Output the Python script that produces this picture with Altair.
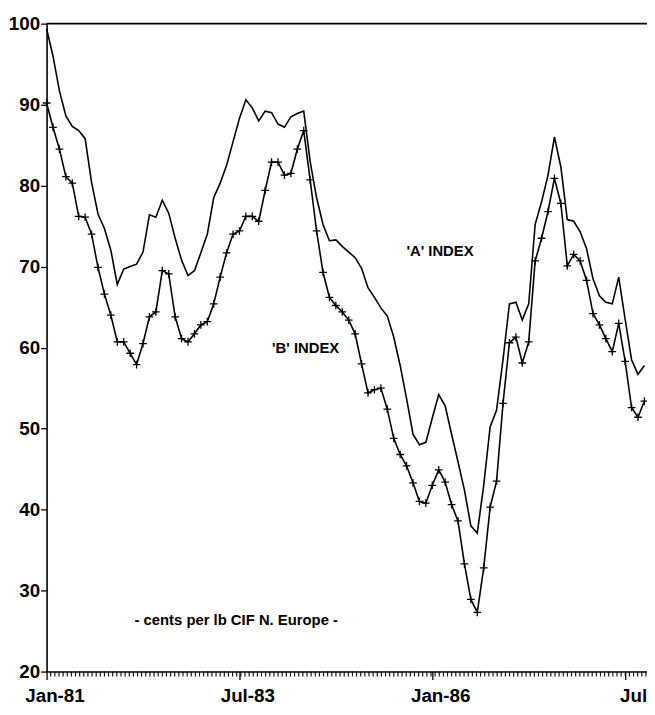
import altair as alt
import pandas as pd
import numpy as np

# Monthly observations, Jan-81 (month 0) .. Oct-88 (month 93)
months = list(range(94))

a_index = [99.4, 96.0, 91.7, 88.6, 87.3, 86.8, 85.8, 80.4, 76.5, 74.7,
           72.0, 67.8, 69.7, 70.0, 70.3, 71.8, 76.4, 76.1, 78.2, 76.6,
           73.5, 70.8, 68.9, 69.5, 71.7, 74.0, 78.5, 80.3, 82.5, 85.4,
           88.3, 90.6, 89.6, 88.0, 89.2, 89.0, 87.6, 87.2, 88.5, 88.9,
           89.2, 83.0, 78.5, 75.2, 73.2, 73.3, 72.5, 71.8, 71.1, 69.8,
           67.4, 66.2, 64.9, 63.9, 61.3, 57.8, 53.7, 49.3, 48.0, 48.3,
           51.3, 54.2, 52.8, 49.3, 45.9, 42.4, 38.0, 37.1, 43.0, 50.2,
           52.3, 58.5, 65.4, 65.6, 63.4, 65.4, 75.2, 78.0, 81.3, 86.0,
           82.3, 75.8, 75.6, 74.3, 72.2, 68.5, 66.4, 65.6, 65.4, 68.7,
           63.5, 58.5, 56.7, 57.8]

b_index = [90.2, 87.2, 84.5, 81.1, 80.3, 76.2, 76.1, 74.0, 69.9, 66.6,
           64.0, 60.7, 60.7, 59.3, 57.9, 60.5, 63.8, 64.4, 69.5, 69.1,
           63.8, 61.1, 60.7, 61.7, 62.8, 63.2, 65.4, 68.7, 71.7, 74.0,
           74.4, 76.2, 76.2, 75.6, 79.4, 82.9, 82.9, 81.3, 81.5, 84.5,
           86.8, 80.7, 74.4, 69.3, 66.2, 65.2, 64.4, 63.4, 61.7, 58.0,
           54.4, 54.8, 55.0, 52.4, 48.8, 46.8, 45.4, 43.3, 41.0, 40.8,
           43.0, 44.9, 43.4, 40.6, 38.6, 33.3, 28.9, 27.3, 32.8, 40.3,
           43.5, 53.1, 60.6, 61.3, 58.1, 60.7, 70.7, 73.5, 76.8, 80.9,
           77.8, 70.1, 71.5, 70.7, 68.3, 64.2, 62.8, 61.1, 59.5, 63.0,
           58.3, 52.6, 51.4, 53.4]

tick_months = [0, 30, 60, 90]
tick_labels = ["Jan-81", "Jul-83", "Jan-86", "Jul"]
y_ticks = [20, 30, 40, 50, 60, 70, 80, 90, 100]

note_texts = ["'A' INDEX", "'B' INDEX", "- cents per lb CIF N. Europe -"]

df_a = pd.DataFrame({"month": months, "value": a_index})
df_b = pd.DataFrame({"month": months, "value": b_index})
# where the three notes sit, in data units (month, index value)
df_notes = pd.DataFrame({"text": note_texts,
                         "month": [61.2, 40.3, 29.5],
                         "value": [71.9, 60.0, 26.4]})
df_top = pd.DataFrame({"value": [max(y_ticks)]})

# comb of small tick marks hanging under the time axis (about 0.64 month apart)
minor_ticks = [round(float(v), 3) for v in np.arange(0.643, 93.4, 0.643)]
df_minor = pd.DataFrame({"month": minor_ticks,
                         "value": min(y_ticks),
                         "value2": min(y_ticks) - 0.6})

FONT = "Liberation Sans"
label_expr = " : ".join(
    f"abs(datum.value - {m}) < 0.01 ? '{t}'" for m, t in zip(tick_months, tick_labels)
) + " : ''"

xscale = alt.Scale(domain=[0, 93.4], nice=False, zero=False)
yscale = alt.Scale(domain=[20, 100], nice=False, zero=False)

yaxis = alt.Axis(values=y_ticks, tickSize=6, labelPadding=1, labelFontSize=19,
                 labelFont=FONT, labelFontWeight="bold", labelColor="black",
                 domainColor="black", domainWidth=1.6, tickColor="black",
                 tickWidth=1.3, grid=False, title=None)

xaxis = alt.Axis(values=tick_months, labelExpr=label_expr, ticks=True, tickSize=8,
                 labelPadding=7, labelOffset=8, labelFontSize=19,
                 labelFont=FONT, labelFontWeight="bold", labelColor="black",
                 labelFlush=False, labelOverlap=False, labelBound=False,
                 domainColor="black", domainWidth=1.6, tickColor="black",
                 tickWidth=1.3, grid=False, title=None, orient="bottom")

X = alt.X("month:Q", scale=xscale, axis=xaxis)
Y = alt.Y("value:Q", scale=yscale, axis=yaxis)

line_a = alt.Chart(df_a).mark_line(color="black", strokeWidth=1.6).encode(x=X, y=Y)
line_b = alt.Chart(df_b).mark_line(color="black", strokeWidth=1.6).encode(x=X, y=Y)

pts_b = alt.Chart(df_b).mark_point(
    shape="M-1,0L1,0M0,-1L0,1", filled=False, color="black",
    strokeWidth=1.3, size=60, opacity=1
).encode(x=X, y=Y)

minor = alt.Chart(df_minor).mark_rule(color="black", strokeWidth=1.1, clip=False).encode(
    x=X, y=Y, y2="value2:Q"
)

top_rule = alt.Chart(df_top).mark_rule(color="black", strokeWidth=1.6, clip=False).encode(y=Y)

notes = alt.Chart(df_notes).mark_text(
    font=FONT, fontSize=15, fontWeight="bold",
    color="black", align="center", baseline="middle"
).encode(x=X, y=Y, text="text:N")

chart = alt.layer(
    line_a, line_b, pts_b, minor, top_rule, notes
).properties(
    width=607, height=655,
    padding={"left": 39, "top": 12, "right": 0, "bottom": 30},
    autosize=alt.AutoSizeParams(type="none"),
    background="white",
).configure_view(stroke=None)

chart.save("out.html", embed_options={"renderer": "svg", "actions": False})
